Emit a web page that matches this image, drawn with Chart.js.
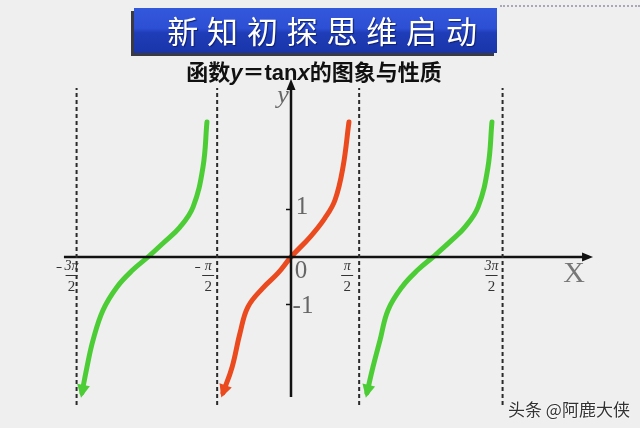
<!DOCTYPE html>
<html><head><meta charset="utf-8">
<script src="https://cdn.jsdelivr.net/npm/chart.js@4"></script>
<style>
html,body{margin:0;padding:0;}
body{width:640px;height:428px;position:relative;overflow:hidden;background:#efefef;font-family:"Noto Sans CJK SC","Noto Sans",sans-serif;}
#c{position:absolute;left:0;top:0;}
#dots{position:absolute;left:500px;top:5px;width:140px;height:0;border-top:2px dotted #a8a8b8;}
#banner{position:absolute;left:134px;top:8px;width:363px;height:45px;
 background:linear-gradient(#3458dc 0%,#2c4fd4 45%,#1f3db8 55%,#1a35aa 100%);
 box-shadow:-3px 3px 0 #3a3a44;}
#bt{position:absolute;left:134px;top:8px;width:363px;height:45px;line-height:43px;text-align:center;color:#fff;font-size:31px;letter-spacing:8.8px;text-indent:22px;text-shadow:1px 1px 1px #102070;white-space:nowrap;}
#sub{position:absolute;left:0;width:628px;top:54px;text-align:center;font-size:22px;font-weight:bold;color:#111;white-space:nowrap;}
#sub i{font-family:"Liberation Sans",sans-serif;font-style:italic;}
#sub b{font-family:"Liberation Sans",sans-serif;}
#wm{position:absolute;left:508px;top:396px;font-size:17px;color:#333;text-shadow:0 0 2px #fff,0 0 2px #fff;}
</style></head>
<body>
<canvas id="c" width="640" height="428"></canvas>
<div id="dots"></div>
<div id="banner"></div>
<div id="bt">新知初探思维启动</div>
<div id="sub">函数<i>y</i>＝<b>tan</b><i>x</i>的图象与性质</div>
<div id="wm">头条 @阿鹿大侠</div>
<script>
// x in units of π, y in tan units
const redX   = [-0.479,-0.415,-0.359,-0.303,-0.197,-0.092,0,0.134,0.239,0.310,0.366,0.408];
const redY   = [-2.86,-2.32,-1.60,-1.05,-0.65,-0.34,0,0.42,0.82,1.20,1.89,2.84];
const greenLX = [-1.472,-1.437,-1.394,-1.324,-1.225,-1.113,-1.007,-0.901,-0.782,-0.690,-0.620,-0.592];
const greenLY = [-2.86,-2.32,-1.75,-1.12,-0.63,-0.27,0,0.29,0.63,1.05,1.89,2.84];
const greenRX = [0.535,0.577,0.627,0.683,0.782,0.894,1.000,1.134,1.225,1.317,1.387,1.415];
const greenRY = [-2.86,-2.32,-1.75,-1.12,-0.63,-0.27,0,0.36,0.63,1.05,1.89,2.84];
const asymptoteX = [-1.51,-0.52,0.48,1.49];
const asymptoteLabels = [["-","3π","2"],["-","π","2"],["","π","2"],["","3π","2"]];
const yTickValues = [1,-1];
const yTickLabels = ["1","-1"];
const originLabel = "0";
const xAxisName = "X";
const yAxisName = "y";
const xAxisRange = [-1.599,2.127];
const yAxisRange = [-2.947,3.747];
const dashRange = [-3.116,3.558];

const pts=(xs,ys)=>xs.map((x,i)=>({x:x,y:ys[i]}));
const RED='#ea4a1e', GREEN='#4ccd36';
const datasets=[];
asymptoteX.forEach(x=>datasets.push({data:[{x:x,y:dashRange[0]},{x:x,y:dashRange[1]}],borderColor:'#2a2a2a',borderWidth:2,borderDash:[4,3],showLine:true,pointRadius:0}));
datasets.push({data:[{x:xAxisRange[0],y:0},{x:xAxisRange[1]-0.03,y:0}],borderColor:'#111',borderWidth:2.5,showLine:true,pointRadius:0});
datasets.push({data:[{x:0,y:yAxisRange[0]},{x:0,y:yAxisRange[1]-0.12}],borderColor:'#111',borderWidth:2.5,showLine:true,pointRadius:0});
[[greenLX,greenLY,GREEN],[redX,redY,RED],[greenRX,greenRY,GREEN]].forEach(([xs,ys,c])=>{
  datasets.push({data:pts(xs,ys),borderColor:c,borderWidth:5,showLine:true,pointRadius:0,tension:0.4,borderCapStyle:'round',arrow:true});
});

function tri(ctx,tx,ty,dx,dy,len,hw,color){
  const n=Math.hypot(dx,dy); dx/=n; dy/=n;
  const bx=tx-dx*len, by=ty-dy*len;
  ctx.beginPath(); ctx.moveTo(tx,ty);
  ctx.lineTo(bx-dy*hw,by+dx*hw); ctx.lineTo(bx+dy*hw,by-dx*hw); ctx.closePath();
  ctx.fillStyle=color; ctx.fill();
}

const deco={id:'deco',afterDatasetsDraw(chart){
  const ctx=chart.ctx, sx=chart.scales.x, sy=chart.scales.y;
  const X=v=>sx.getPixelForValue(v), Y=v=>sy.getPixelForValue(v);
  ctx.save();
  tri(ctx,X(xAxisRange[1]),Y(0),1,0,11,4.5,'#111');
  tri(ctx,X(0),Y(yAxisRange[1]),0,-1,11,4.5,'#111');
  chart.data.datasets.forEach(ds=>{
    if(!ds.arrow)return;
    const p0=ds.data[0], p1=ds.data[1];
    const x0=X(p0.x),y0=Y(p0.y),x1=X(p1.x),y1=Y(p1.y);
    const dx=x0-x1, dy=y0-y1, n=Math.hypot(dx,dy);
    tri(ctx,x0+dx/n*5,y0+dy/n*5,dx,dy,13,6.5,ds.borderColor);
  });
  ctx.strokeStyle='#111'; ctx.lineWidth=1.5;
  yTickValues.forEach(v=>{ctx.beginPath();ctx.moveTo(X(0)-5,Y(v));ctx.lineTo(X(0),Y(v));ctx.stroke();});
  ctx.fillStyle='#666'; ctx.textAlign='center'; ctx.textBaseline='middle';
  ctx.font='25px "Liberation Serif"';
  yTickValues.forEach((v,i)=>{ctx.fillText(yTickLabels[i],X(0)+(i===0?11:12),Y(v)+(i===0?-2:2));});
  ctx.fillText(originLabel,X(0)+10,Y(0)+14);
  ctx.font='italic 26px "Liberation Serif"';
  ctx.fillText(yAxisName,X(0)-8,Y(yAxisRange[1])+17);
  ctx.font='30px "Liberation Serif"'; ctx.fillStyle='#777';
  ctx.fillText(xAxisName,X(xAxisRange[1])-19,Y(0)+17);
  ctx.fillStyle='#333';
  asymptoteX.forEach((v,i)=>{
    const [s,num,den]=asymptoteLabels[i];
    const off=[5,9,12,11][i];
    const cx=X(v)-off, y0=Y(0);
    ctx.font='italic 14px "Liberation Serif"'; ctx.textAlign='center';
    ctx.fillText(num,cx,y0+9);
    ctx.font='15px "Liberation Serif"';
    ctx.fillText(den,cx,y0+30);
    ctx.fillRect(cx-6,y0+18,12,1);
    if(s){ctx.fillRect(cx-(num.length>1?15:13),y0+10,5,1);}
  });
  ctx.restore();
}};

new Chart(document.getElementById('c'),{
  type:'scatter',
  data:{datasets:datasets},
  options:{responsive:false,animation:false,devicePixelRatio:1,
    layout:{padding:0},
    plugins:{legend:{display:false},tooltip:{enabled:false}},
    scales:{
      x:{type:'linear',display:false,min:-291/142,max:349/142},
      y:{type:'linear',display:false,min:-171/47.5,max:257/47.5}
    }
  },
  plugins:[deco]
});
</script>
</body></html>
